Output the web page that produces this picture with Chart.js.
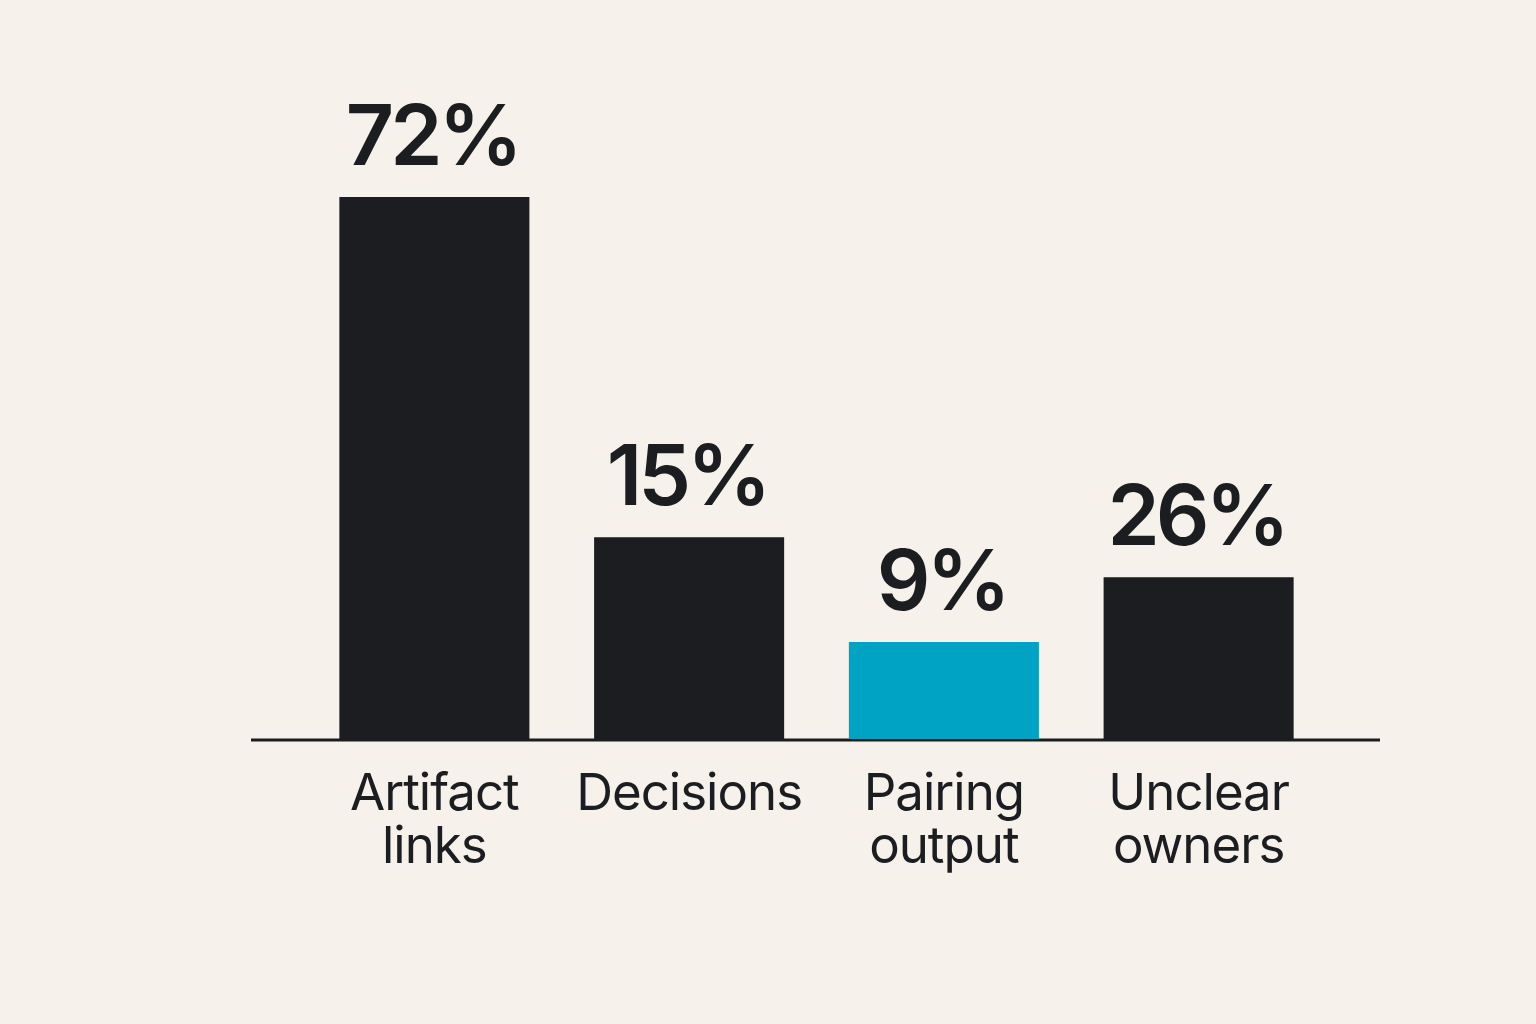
<!DOCTYPE html>
<html>
<head>
<meta charset="utf-8">
<script src="https://cdn.jsdelivr.net/npm/chart.js@4.4.1/dist/chart.umd.min.js"></script>
<style>
  html, body { margin: 0; padding: 0; background: #f6f2eb; }
  #wrap { width: 1536px; height: 1024px; }
</style>
</head>
<body>
<div id="wrap"><canvas id="chart" width="1536" height="1024"></canvas></div>
<script>
// category labels, one entry per line
const categories = [['Artifact', 'links'], ['Decisions'], ['Pairing', 'output'], ['Unclear', 'owners']];
// percentages printed above the bars
const shares = [72, 15, 9, 26];
// bar heights as drawn in the picture (same units, the 72% bar as reference)
const barHeights = [72, 26.8, 12.9, 21.5];
const barColors = ['#1c1d21', '#1c1d21', '#00a3c4', '#1c1d21'];

const ink = '#1c1d21';

// baseline extending past the bars, drawn under them
const baselinePlugin = {
  id: 'baseline',
  beforeDatasetsDraw(chart) {
    const { ctx, chartArea } = chart;
    ctx.save();
    ctx.strokeStyle = ink;
    ctx.lineWidth = 3;
    ctx.beginPath();
    ctx.moveTo(chartArea.left - 56, chartArea.bottom + 1);
    ctx.lineTo(chartArea.right + 54, chartArea.bottom + 1);
    ctx.stroke();
    ctx.restore();
  }
};

// value labels above bars and category labels under the baseline
const labelsPlugin = {
  id: 'labels',
  afterDatasetsDraw(chart) {
    const { ctx, chartArea } = chart;
    const meta = chart.getDatasetMeta(0);
    ctx.save();
    ctx.fillStyle = ink;
    ctx.textAlign = 'center';
    ctx.textBaseline = 'alphabetic';
    meta.data.forEach((bar, i) => {
      ctx.font = '600 84px Inter';
      ctx.letterSpacing = '-4px';
      ctx.fillText(shares[i] + '%', bar.x - 2, bar.y - 32);
      ctx.font = '400 51px Inter';
      ctx.letterSpacing = '-1px';
      categories[i].forEach((line, j) => {
        ctx.fillText(line, bar.x, chartArea.bottom + 71 + j * 53);
      });
    });
    ctx.restore();
  }
};

new Chart(document.getElementById('chart'), {
  type: 'bar',
  data: {
    labels: categories.map(c => c.join(' ')),
    datasets: [{
      data: barHeights,
      backgroundColor: barColors,
      borderWidth: 0,
      barPercentage: 0.746,
      categoryPercentage: 1
    }]
  },
  options: {
    responsive: false,
    animation: false,
    layout: { padding: { left: 307, right: 210, top: 197, bottom: 285 } },
    plugins: { legend: { display: false }, tooltip: { enabled: false } },
    scales: {
      x: { display: false },
      y: { display: false, min: 0, max: 72 }
    }
  },
  plugins: [baselinePlugin, labelsPlugin]
});
</script>
</body>
</html>
